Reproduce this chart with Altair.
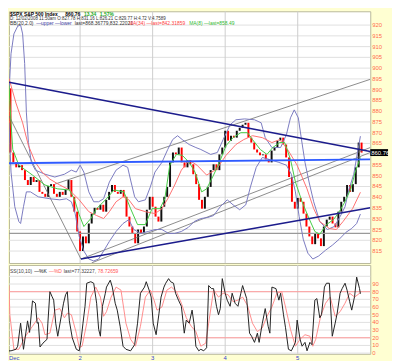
import altair as alt
import pandas as pd

# ---------------- data ----------------
first_open = 890.6
close = [860.8, 856.2, 853.9, 854.9, 852.6, 848.0, 845.7, 849.4, 847.1, 848.0,
         842.5, 841.6, 840.2, 845.2, 846.1, 841.6, 840.2, 842.5, 841.1, 843.4,
         848.0, 840.2, 833.3, 824.1, 815.0, 821.8, 818.6, 827.8, 832.4, 835.1,
         834.2, 836.5, 833.3, 838.8, 842.5, 845.7, 842.5, 841.6, 843.4, 840.2,
         831.0, 826.4, 823.2, 818.6, 825.0, 823.2, 826.4, 834.2, 840.2, 835.6,
         831.0, 828.7, 835.6, 840.2, 844.8, 856.2, 860.8, 859.9, 863.1, 856.2,
         853.9, 857.2, 855.3, 850.7, 846.1, 838.8, 834.7, 840.2, 844.8, 852.6,
         855.3, 852.6, 859.9, 863.1, 870.9, 866.3, 868.6, 867.7, 870.9, 872.3,
         873.7, 874.6, 867.7, 865.4, 862.2, 860.8, 859.5, 859.9, 857.6, 856.2,
         861.7, 863.1, 866.3, 867.7, 864.5, 858.5, 849.4, 837.9, 834.7, 839.7,
         837.9, 832.4, 826.4, 821.8, 818.2, 823.2, 820.9, 817.3, 826.4, 829.6,
         831.0, 827.8, 826.0, 833.3, 837.9, 840.2, 845.7, 842.5, 846.1, 853.9,
         865.4, 860.76]

ma8_bar = [0.5, 1.2, 1.8, 3.9, 8.6, 12.9, 17.3, 21.3, 23.0, 24.7, 26.3, 28.7, 30.7,
           34.1, 36.7, 40.1, 42.4, 44.8, 47.5, 49.8, 52.5, 54.2, 55.9, 58.2, 60.2,
           62.6, 64.6, 66.9, 68.6, 71.0, 73.0, 75.3, 77.7, 80.4, 82.7, 84.4, 87.1,
           89.4, 91.4, 93.8, 95.5, 97.5, 99.2, 101.5, 103.9, 105.9, 107.6, 109.9,
           112.3, 113.9, 115.9, 118.3, 119.8, 121.6]
ma8_val = [892.0, 874.6, 862.2, 854.9, 850.3, 845.7, 843.9, 843.4, 839.3, 831.9,
           826.4, 830.1, 834.7, 839.3, 843.4, 842.5, 834.7, 827.3, 827.3, 834.7,
           834.7, 839.3, 854.9, 859.9, 859.5, 856.2, 851.7, 842.5, 843.9, 850.3,
           856.2, 864.0, 867.7, 870.0, 870.0, 866.8, 862.2, 859.9, 863.1, 865.4,
           865.4, 857.6, 847.1, 837.9, 830.1, 824.1, 822.8, 827.3, 829.6, 832.4,
           837.0, 843.9, 851.7, 858.49]

ma34_bar = [0.5, 2.9, 5.2, 7.2, 9.6, 11.9, 14.6, 18.0, 21.3, 24.7, 28.0, 30.7, 33.1,
            35.1, 37.4, 39.8, 41.8, 44.1, 47.5, 50.8, 53.2, 55.2, 57.6, 59.9, 62.6,
            65.3, 68.6, 72.0, 75.3, 78.7, 81.4, 84.4, 87.8, 91.1, 93.8, 96.5, 99.8,
            103.2, 105.5, 107.6, 110.9, 113.3, 115.6, 118.9, 121.6]
ma34_val = [895.2, 883.8, 874.6, 864.0, 856.2, 851.7, 848.4, 845.7, 843.4, 838.8,
            833.3, 831.5, 830.1, 833.3, 837.9, 840.2, 838.8, 834.7, 833.3, 832.4,
            834.7, 839.3, 845.7, 852.6, 857.2, 854.9, 850.3, 853.0, 859.5, 864.5,
            866.8, 868.6, 867.7, 865.4, 866.8, 862.2, 854.9, 843.9, 834.7, 828.7,
            825.5, 825.0, 828.7, 834.7, 842.32]

bbu_bar = [0.5, 1.2, 2.2, 3.5, 4.5, 5.2, 5.9, 6.5, 7.2, 8.2, 9.6, 12.9, 16.3, 19.6,
           22.0, 23.7, 25.0, 26.3, 28.0, 29.7, 31.4, 33.1, 35.1, 37.4, 39.8, 41.4,
           42.4, 43.8, 45.1, 47.5, 49.2, 50.8, 53.2, 55.2, 56.9, 58.6, 60.2, 62.6,
           64.9, 66.6, 70.0, 72.3, 74.3, 76.7, 78.7, 81.7, 85.1, 87.4, 88.8, 91.1,
           94.1, 96.1, 97.5, 98.8, 100.2, 101.2, 102.5, 103.9, 105.5, 107.6, 110.2,
           112.6, 114.6, 116.3, 117.6, 119.3, 120.6, 121.6]
bbu_val = [888.3, 906.7, 915.9, 919.5, 920.0, 915.9, 902.1, 879.2, 865.4, 856.2,
           852.6, 850.7, 849.4, 850.7, 852.6, 851.7, 854.9, 851.7, 842.5, 837.9,
           837.9, 839.3, 847.1, 852.6, 854.9, 853.9, 848.0, 840.2, 837.9, 838.8,
           844.8, 851.7, 856.2, 862.2, 866.8, 868.6, 866.8, 864.5, 863.1, 862.2,
           859.9, 860.8, 866.8, 873.7, 876.0, 876.4, 876.0, 874.6, 867.7, 863.1,
           863.1, 869.1, 876.9, 880.6, 876.9, 867.7, 856.2, 847.1, 837.9, 828.7,
           825.0, 826.4, 831.0, 835.6, 843.4, 850.7, 860.8, 868.37]

bbl_bar = [0.5, 1.2, 2.5, 3.9, 4.5, 5.5, 6.5, 7.9, 10.6, 14.6, 18.0, 20.3, 22.0,
           23.3, 24.7, 26.3, 28.0, 29.7, 31.4, 33.1, 35.1, 37.4, 39.8, 41.8, 43.5,
           45.8, 48.5, 50.8, 53.2, 55.5, 57.6, 59.9, 62.3, 64.3, 66.6, 69.0, 71.0,
           73.3, 75.7, 77.7, 80.0, 82.1, 83.7, 85.7, 87.8, 90.1, 93.5, 96.1, 97.8,
           99.2, 100.5, 101.9, 103.5, 105.2, 107.2, 109.6, 111.9, 114.3, 116.6,
           118.6, 120.3, 121.6]
bbl_val = [874.6, 851.7, 835.6, 828.7, 827.8, 835.6, 842.5, 842.5, 840.2, 839.3,
           838.8, 839.3, 837.9, 832.4, 821.8, 815.0, 811.3, 810.4, 811.3, 815.0,
           819.5, 824.1, 827.8, 829.6, 825.0, 823.2, 824.1, 825.0, 825.0, 823.2,
           823.2, 824.1, 826.0, 828.7, 830.1, 830.6, 831.5, 835.6, 838.8, 836.5,
           834.2, 836.5, 844.8, 853.9, 858.5, 857.6, 856.2, 854.9, 850.7, 842.5,
           831.0, 820.5, 814.0, 811.3, 812.7, 815.4, 817.7, 820.5, 823.7, 825.5,
           827.8, 832.22]

k_bar = [0.5, 1.2, 2.9, 3.5, 4.5, 5.5, 6.9, 7.6, 8.6, 9.6, 10.2, 10.6, 11.2, 12.2,
         13.6, 13.9, 14.6, 15.3, 15.9, 16.6, 17.3, 18.6, 19.3, 20.0, 20.6, 21.3,
         22.3, 23.7, 24.7, 25.3, 26.0, 26.7, 27.3, 28.7, 29.7, 30.7, 31.4, 32.0,
         32.7, 33.7, 34.1, 35.4, 36.1, 37.1, 37.8, 38.8, 39.8, 40.8, 42.4, 43.8,
         44.8, 45.8, 47.2, 47.8, 48.8, 49.5, 50.2, 51.2, 52.2, 52.9, 53.9, 54.5,
         55.5, 56.2, 57.2, 57.9, 58.9, 59.9, 60.9, 61.6, 62.6, 63.6, 64.3, 64.9,
         65.9, 66.6, 67.6, 68.6, 69.3, 70.3, 71.0, 72.0, 72.7, 73.3, 74.0, 75.0,
         75.7, 76.7, 77.4, 78.4, 79.4, 80.4, 81.0, 82.4, 83.4, 84.1, 85.1, 86.1,
         86.7, 87.8, 88.8, 89.8, 90.4, 91.1, 92.5, 93.5, 94.1, 95.1, 95.8, 96.8,
         97.8, 99.2, 99.8, 100.8, 101.5, 102.5, 103.2, 104.2, 104.9, 105.9, 106.6,
         107.6, 108.2, 109.2, 109.9, 110.9, 111.9, 112.9, 113.6, 114.6, 115.3,
         116.3, 117.0, 117.9, 118.6, 119.6, 120.3, 121.3, 121.6]
k_val = [3, 3, 5, 9, 39, 5, 42, 27, 68, 65, 39, 40, 8, 13, 18, 39, 80, 74, 69, 39,
         22, 50, 65, 76, 80, 42, 20, 5, 3, 16, 39, 61, 91, 93, 91, 65, 31, 22, 61,
         78, 86, 95, 86, 65, 56, 35, 9, 5, 3, 11, 39, 78, 86, 93, 82, 73, 39, 24,
         52, 73, 86, 91, 97, 93, 91, 78, 69, 61, 26, 43, 39, 56, 37, 9, 3, 5, 3, 7,
         88, 84, 84, 61, 50, 58, 97, 78, 69, 61, 78, 65, 61, 78, 88, 71, 26, 22, 14,
         26, 14, 39, 58, 35, 26, 86, 84, 69, 78, 50, 33, 5, 3, 14, 43, 18, 9, 14, 3,
         14, 11, 69, 71, 46, 50, 86, 91, 91, 22, 39, 52, 78, 84, 91, 82, 67, 56, 74,
         99, 84, 77.32]

d_bar = [0.5, 0.8, 2.2, 3.9, 6.2, 8.6, 10.6, 11.9, 12.9, 14.6, 16.3, 18.0, 19.6,
         20.6, 22.0, 23.7, 24.7, 25.7, 27.3, 28.7, 30.4, 32.0, 33.1, 34.1, 35.7,
         37.4, 39.1, 40.8, 42.4, 44.1, 45.8, 47.5, 49.2, 50.5, 51.5, 53.2, 54.9,
         56.5, 58.2, 59.9, 61.6, 63.3, 64.9, 66.6, 68.3, 69.3, 71.0, 72.7, 74.3,
         76.0, 77.7, 79.4, 81.0, 82.7, 84.4, 86.1, 87.8, 89.4, 91.1, 92.8, 94.5,
         95.8, 97.5, 99.2, 100.8, 102.5, 104.2, 105.2, 106.2, 107.9, 109.6, 111.2,
         112.9, 114.6, 116.3, 117.9, 119.6, 121.6]
d_val = [88, 50, 5, 5, 22, 35, 46, 39, 24, 26, 56, 58, 46, 52, 50, 26, 7, 9, 39, 73,
         86, 73, 48, 54, 73, 86, 82, 39, 18, 9, 35, 73, 82, 69, 56, 60, 82, 86, 80,
         65, 46, 35, 28, 9, 13, 39, 82, 73, 78, 76, 67, 69, 73, 62, 39, 28, 33, 48,
         60, 78, 80, 60, 31, 9, 18, 24, 22, 9, 18, 48, 65, 73, 48, 54, 65, 78, 73,
         78.73]

# hand-drawn trend lines: two end points each (bar, price)
trend_names = ["resist", "support", "flat", "base", "g_a", "g_b", "g_c1", "g_c2"]
trend_b1 = [0.5, 25.3, 0.5, 0.5, 0.5, 16.3, 25.3, 29.0]
trend_p1 = [893.4, 811.3, 855.8, 823.2, 877.8, 846.1, 811.3, 809.5]
trend_b2 = [125.0, 125.0, 125.0, 125.0, 25.3, 125.0, 125.0, 125.0]
trend_p2 = [861.3, 835.1, 857.6, 823.2, 811.3, 894.8, 863.1, 860.8]

price_ticks = list(range(815, 925, 5))
price_labels = [815, 820, 825, 830, 835, 840, 845, 850, 855, 865, 870, 875, 880,
                885, 890, 895, 900, 905, 910, 915, 920]
stoch_ticks = list(range(0, 100, 10))
stoch_bands = [20, 80]
day_bars = [25, 50, 75, 100]
day_labels = ["2", "3", "4", "5"]
last_price = [860.76]

# ---------------- tables ----------------
opens = [first_open] + close[:-1]
candles = pd.DataFrame({
    "bar": list(range(1, len(close) + 1)),
    "v": opens,
    "close": close,
    "dir": ["down" if c < o else "up" for o, c in zip(opens, close)],
})


def series(b, v):
    return pd.DataFrame({"bar": b, "v": v})


rows = []
for n, b1, p1, b2, p2 in zip(trend_names, trend_b1, trend_p1, trend_b2, trend_p2):
    rows.append({"name": n, "bar": b1, "v": p1})
    rows.append({"name": n, "bar": b2, "v": p2})
trend = pd.DataFrame(rows)

# ---------------- layout ----------------
W, H1, H2 = 366, 255, 90
FONT = "Liberation Sans"
LABEL_C = "#ff6a4d"
xs = alt.Scale(domain=[0.5, 125], nice=False, zero=False)
ps = alt.Scale(domain=[809.45, 926.42], nice=False, zero=False)
ss = alt.Scale(domain=[-0.9, 114.8], nice=False, zero=False)

X = alt.X("bar:Q", scale=xs, axis=None)
Yp = alt.Y("v:Q", scale=ps, axis=None)
Ys = alt.Y("v:Q", scale=ss, axis=None)


def hgrid(vals, yenc, color="#e0e0e0"):
    return alt.Chart(pd.DataFrame({"v": vals})).mark_rule(
        color=color, strokeWidth=1).encode(x=alt.value(0), x2=alt.value(W), y=yenc)


def vgrid(h):
    return alt.Chart(pd.DataFrame({"bar": day_bars})).mark_rule(
        color="#cdcdcd", strokeWidth=1).encode(x=X, y=alt.value(0), y2=alt.value(h))


def ylabels(vals, yenc):
    return alt.Chart(pd.DataFrame({"v": vals})).mark_text(
        align="left", baseline="middle", fontSize=6, font=FONT,
        color=LABEL_C).encode(x=alt.value(W + 2), y=yenc, text="v:Q")


def tline(names, color, width):
    return alt.Chart(trend).transform_filter(
        alt.FieldOneOfPredicate(field="name", oneOf=names)
    ).mark_line(color=color, strokeWidth=width, clip=True).encode(
        x=X, y=Yp, detail="name:N")


def ind(b, v, color, width=1, yenc=Yp):
    return alt.Chart(series(b, v)).mark_line(
        color=color, strokeWidth=width, clip=True).encode(x=X, y=yenc)


def label(txt, x, y, color="#333333", size=5, weight="normal"):
    return alt.Chart(pd.DataFrame({"t": [txt]})).mark_text(
        align="left", baseline="middle", fontSize=size, font=FONT,
        fontWeight=weight, color=color).encode(
        x=alt.value(x), y=alt.value(y), text="t:N")


candle_layer = alt.Chart(candles).mark_rule(strokeWidth=2).encode(
    x=X, y=Yp, y2="close:Q",
    color=alt.Color("dir:N", scale=alt.Scale(domain=["up", "down"],
                    range=["#111111", "#ff0000"]), legend=None),
)

last_df = pd.DataFrame({"v": last_price, "t": [f"{last_price[0]:.2f}"]})
last_box = alt.Chart(last_df).mark_rule(color="black", strokeWidth=7).encode(
    x=alt.value(W), x2=alt.value(W + 18), y=Yp)
last_txt = alt.Chart(last_df).mark_text(
    align="left", baseline="middle", fontSize=6, font=FONT, color="white").encode(
    x=alt.value(W + 1), y=Yp, text="t:N")

top = alt.layer(
    hgrid(price_ticks, Yp),
    vgrid(H1),
    candle_layer,
    tline(["base"], "#9a9a9a", 1.2),
    tline(["g_a", "g_b", "g_c1", "g_c2"], "#6e6e6e", 0.8),
    ind(bbu_bar, bbu_val, "#7a7ac0", 1),
    ind(bbl_bar, bbl_val, "#7a7ac0", 1),
    ind(ma34_bar, ma34_val, "#ff7070", 1),
    ind(ma8_bar, ma8_val, "#44cc44", 1),
    tline(["flat"], "#2f5bff", 2),
    tline(["resist", "support"], "#1c1c8c", 1.6),
    ylabels(price_labels, Yp),
    last_box, last_txt,
    label("$SPX S&P 500 Index", 1, 3, "#000000", 5, "bold"),
    label("860.76", 57, 3, "#000000", 5, "bold"),
    label("13.34", 76, 3, "#22aa22", 5, "bold"),
    label("1.57%", 92, 3, "#22aa22", 5, "bold"),
    label("D: 12/02/2008 11:50am  O:827.78 H:831.16 L:826.21 C:829.77 H:4.72 V:4.7589",
          1, 7.5, "#333333", 4.5),
    label("BB(20,2.0)", 1, 11.5, "#333333", 5),
    label("\u2014upper \u2014lower", 27.5, 11.5, "#3a3aa0", 5),
    label("last=868.36779,832.22021", 66.5, 11.5, "#333333", 5),
    label("MA(34) \u2014last=842.31859", 121.5, 11.5, "#ff4444", 5),
    label("MA(8) \u2014last=858.49", 182.5, 11.5, "#33bb33", 5),
).properties(width=W, height=H1)

days = alt.Chart(pd.DataFrame({"bar": day_bars, "t": day_labels})).mark_text(
    baseline="middle", fontSize=6, font=FONT, color="#3344cc").encode(
    x=X, y=alt.value(H2 + 4.5), text="t:N")

bottom = alt.layer(
    hgrid(stoch_ticks + [100], Ys),
    vgrid(H2),
    hgrid(stoch_bands, Ys, "#ff9a9a"),
    ind(d_bar, d_val, "#ff8c8c", 1, Ys),
    ind(k_bar, k_val, "#222222", 1, Ys),
    ylabels(stoch_ticks, Ys),
    days,
    label("Dec", 0, H2 + 4.5, "#3344cc", 6),
    label("SS(10,10)", 1, 6.5, "#444444", 5),
    label("\u2014%K", 25.5, 6.5, "#111111", 5),
    label("\u2014%D", 40.5, 6.5, "#ff5555", 5),
    label("last=77.32227,", 55.5, 6.5, "#444444", 5),
    label("78.72659", 90, 6.5, "#ff5555", 5),
).properties(width=W, height=H2)

chart = alt.vconcat(top, bottom, spacing=0).properties(
    padding={"left": 0, "top": 0, "right": 0, "bottom": 0}
).configure(background="#ffffd2").configure_view(
    fill="white", stroke="#b9b99a", strokeWidth=1)

chart.save("out.html", embed_options={"renderer": "svg", "actions": False})
